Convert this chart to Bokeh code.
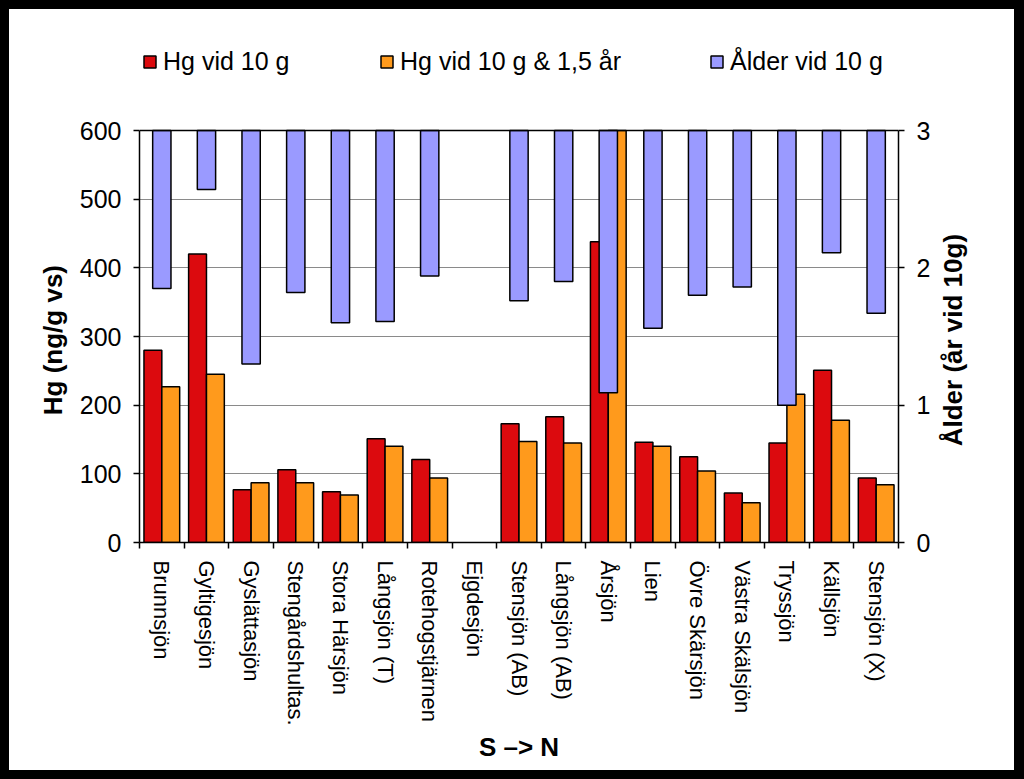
import numpy as np
from bokeh.plotting import figure
from bokeh.layouts import row
from bokeh.models import (Range1d, LinearAxis, FixedTicker, ColumnDataSource,
                          Legend, LegendItem, Span, Label)
from bokeh.embed import file_html
from bokeh.resources import INLINE

# ---------------- data ----------------
lakes = ["Brunnsjön", "Gyltigesjön", "Gyslättasjön", "Stengårdshultas.",
         "Stora Härsjön", "Långsjön (T)", "Rotehogstjärnen", "Ejgdesjön",
         "Stensjön (AB)", "Långsjön (AB)", "Årsjön", "Lien", "Övre Skärsjön",
         "Västra Skälsjön", "Tryssjön", "Källsjön", "Stensjön (X)"]
hg_10g = [280, 420, 77, 106, 74, 151, 121, np.nan, 173, 183, 438, 146, 125,
          72, 145, 251, 94]
hg_10g_15ar = [227, 245, 87, 87, 69, 140, 94, np.nan, 147, 145, 600, 140, 104,
               58, 216, 178, 84]
alder_10g = [1.85, 2.57, 1.30, 1.82, 1.60, 1.61, 1.94, np.nan, 1.76, 1.90,
             1.09, 1.56, 1.80, 1.86, 1.00, 2.11, 1.67]
hg_ticks = [0, 100, 200, 300, 400, 500, 600]
alder_ticks = [0, 1, 2, 3]
series_names = ["Hg vid 10 g", "Hg vid 10 g & 1,5 år", "Ålder vid 10 g"]
colors = ["#DC0A0E", "#FF9A1C", "#9A9AFF"]
left_title = "Hg  (ng/g vs)"
right_title = "Ålder  (år vid 10g)"
x_title = "S –> N"

FONT = "Liberation Sans"

# ---------------- layout constants (pixels) ----------------
FIG_H = 761
LW, RW = 60, 81                       # side figures holding the y titles
B_LEFT, B_RIGHT, B_TOP, B_BOTTOM = 70, 34, 21, 228
MAIN_W = B_LEFT + 760 + B_RIGHT
AXIS_PX = 412                         # pixel height of the 0..600 axis
frame_h = FIG_H - B_TOP - B_BOTTOM
hg_max = hg_ticks[-1] * frame_h / AXIS_PX   # frame reaches above 600 to hold the legend
age_max = alder_ticks[-1] * hg_max / hg_ticks[-1]
hg_mid = (hg_ticks[0] + hg_ticks[-1]) / 2
WHITE = {"background-color": "white"}

n = len(lakes)
centers = np.arange(n) + 0.5
src = ColumnDataSource(dict(
    x=centers,
    x_red=centers - 0.2,
    x_org=centers + 0.2,
    hg=np.array(hg_10g, dtype=float),
    hg15=np.array(hg_10g_15ar, dtype=float),
    age=np.array(alder_10g, dtype=float),
    age_top=np.full(n, float(alder_ticks[-1])),
))

p = figure(width=MAIN_W, height=FIG_H,
           x_range=Range1d(0, n), y_range=Range1d(hg_ticks[0], hg_max),
           output_backend="svg", toolbar_location=None,
           min_border_left=B_LEFT, min_border_right=B_RIGHT,
           min_border_top=B_TOP, min_border_bottom=B_BOTTOM)
p.background_fill_color = "white"
p.border_fill_color = "white"
p.outline_line_color = None
p.styles = WHITE
p.extra_y_ranges = {"age": Range1d(alder_ticks[0], age_max)}

# grid
p.xgrid.visible = False
p.ygrid.grid_line_color = "#8a8a8a"
p.ygrid.grid_line_width = 1.2

# x axis
xa = p.xaxis[0]
xa.ticker = FixedTicker(ticks=list(centers), minor_ticks=list(range(n + 1)))
xa.major_label_overrides = {float(c): name for c, name in zip(centers, lakes)}
xa.major_label_orientation = "vertical"
xa.major_tick_line_color = None
xa.major_tick_out = 6
xa.major_tick_in = 0
xa.minor_tick_out = 6
xa.minor_tick_in = 0
xa.minor_tick_line_color = "black"
xa.minor_tick_line_width = 1.5
xa.major_label_standoff = 12
xa.major_label_text_font = FONT
xa.major_label_text_font_size = "22px"
xa.major_label_text_color = "black"
xa.axis_line_color = "black"
xa.axis_line_width = 1.5
xa.axis_label = x_title
xa.axis_label_text_font = FONT
xa.axis_label_text_font_style = "bold"
xa.axis_label_text_font_size = "26px"
xa.axis_label_text_color = "black"
xa.axis_label_standoff = 3

# left axis
ya = p.yaxis[0]
ya.ticker = FixedTicker(ticks=hg_ticks)
ya.bounds = (hg_ticks[0], hg_ticks[-1])
ya.major_tick_out = 6
ya.major_tick_in = 0
ya.major_tick_line_color = "black"
ya.major_tick_line_width = 1.5
ya.axis_line_color = "black"
ya.axis_line_width = 1.5
ya.major_label_standoff = 12
ya.major_label_text_font = FONT
ya.major_label_text_font_size = "25px"
ya.major_label_text_color = "black"

# right axis
ra = LinearAxis(y_range_name="age", ticker=FixedTicker(ticks=alder_ticks),
                bounds=(alder_ticks[0], alder_ticks[-1]))
ra.major_tick_out = 6
ra.major_tick_in = 0
ra.major_tick_line_color = "black"
ra.major_tick_line_width = 1.5
ra.axis_line_color = "black"
ra.axis_line_width = 1.5
ra.major_label_standoff = 12
ra.major_label_text_font = FONT
ra.major_label_text_font_size = "25px"
ra.major_label_text_color = "black"
p.add_layout(ra, "right")

# top border of the plotting area at 600
p.add_layout(Span(location=hg_ticks[-1], dimension="width",
                  line_color="black", line_width=1.5))

# bars
r_red = p.vbar(x="x_red", top="hg", bottom=0, width=0.4, source=src,
               fill_color=colors[0], line_color="black", line_width=1.5)
r_org = p.vbar(x="x_org", top="hg15", bottom=0, width=0.4, source=src,
               fill_color=colors[1], line_color="black", line_width=1.5)
r_age = p.vbar(x="x", top="age_top", bottom="age", width=0.41, source=src,
               y_range_name="age",
               fill_color=colors[2], line_color="black", line_width=1.5)

# legends (three separately placed entries, above the 600 line)
for name, r, xloc in zip(series_names, [r_red, r_org, r_age], [3, 240, 570]):
    lg = Legend(items=[LegendItem(label=name, renderers=[r])],
                location=(xloc, 466), orientation="horizontal",
                border_line_color=None, background_fill_alpha=0,
                padding=0, margin=0, spacing=0,
                glyph_width=15, glyph_height=15, label_standoff=6,
                label_text_font=FONT, label_text_font_size="25px",
                label_text_color="black")
    p.add_layout(lg, "center")


def title_panel(width, text, x_pos):
    f = figure(width=width, height=FIG_H,
               x_range=Range1d(0, width), y_range=Range1d(hg_ticks[0], hg_max),
               output_backend="svg", toolbar_location=None,
               x_axis_location=None, y_axis_location=None,
               min_border_left=0, min_border_right=0,
               min_border_top=B_TOP, min_border_bottom=B_BOTTOM)
    f.background_fill_color = "white"
    f.border_fill_color = "white"
    f.outline_line_color = None
    f.styles = WHITE
    f.xgrid.visible = False
    f.ygrid.visible = False
    f.add_layout(Label(x=x_pos, y=hg_mid, text=text, angle=np.pi / 2,
                       text_align="center", text_baseline="middle",
                       text_font=FONT, text_font_style="bold",
                       text_font_size="26px", text_color="black"))
    return f


left_fig = title_panel(LW, left_title, 43)
right_fig = title_panel(RW, right_title, 19)

layout = row(left_fig, p, right_fig, spacing=0, styles=WHITE)

html = file_html(layout, INLINE, title="Hg")
html = html.replace(
    "</head>",
    "<style>html{background:#000 !important;}"
    "body{background:#fff !important; margin:0 !important; padding:0 !important;"
    "box-sizing:border-box !important; height:100% !important;"
    "border-style:solid !important; border-color:#000 !important;"
    "border-width:9px 10px 9px 9px !important;}</style></head>", 1)
open("out.html", "w").write(html)
